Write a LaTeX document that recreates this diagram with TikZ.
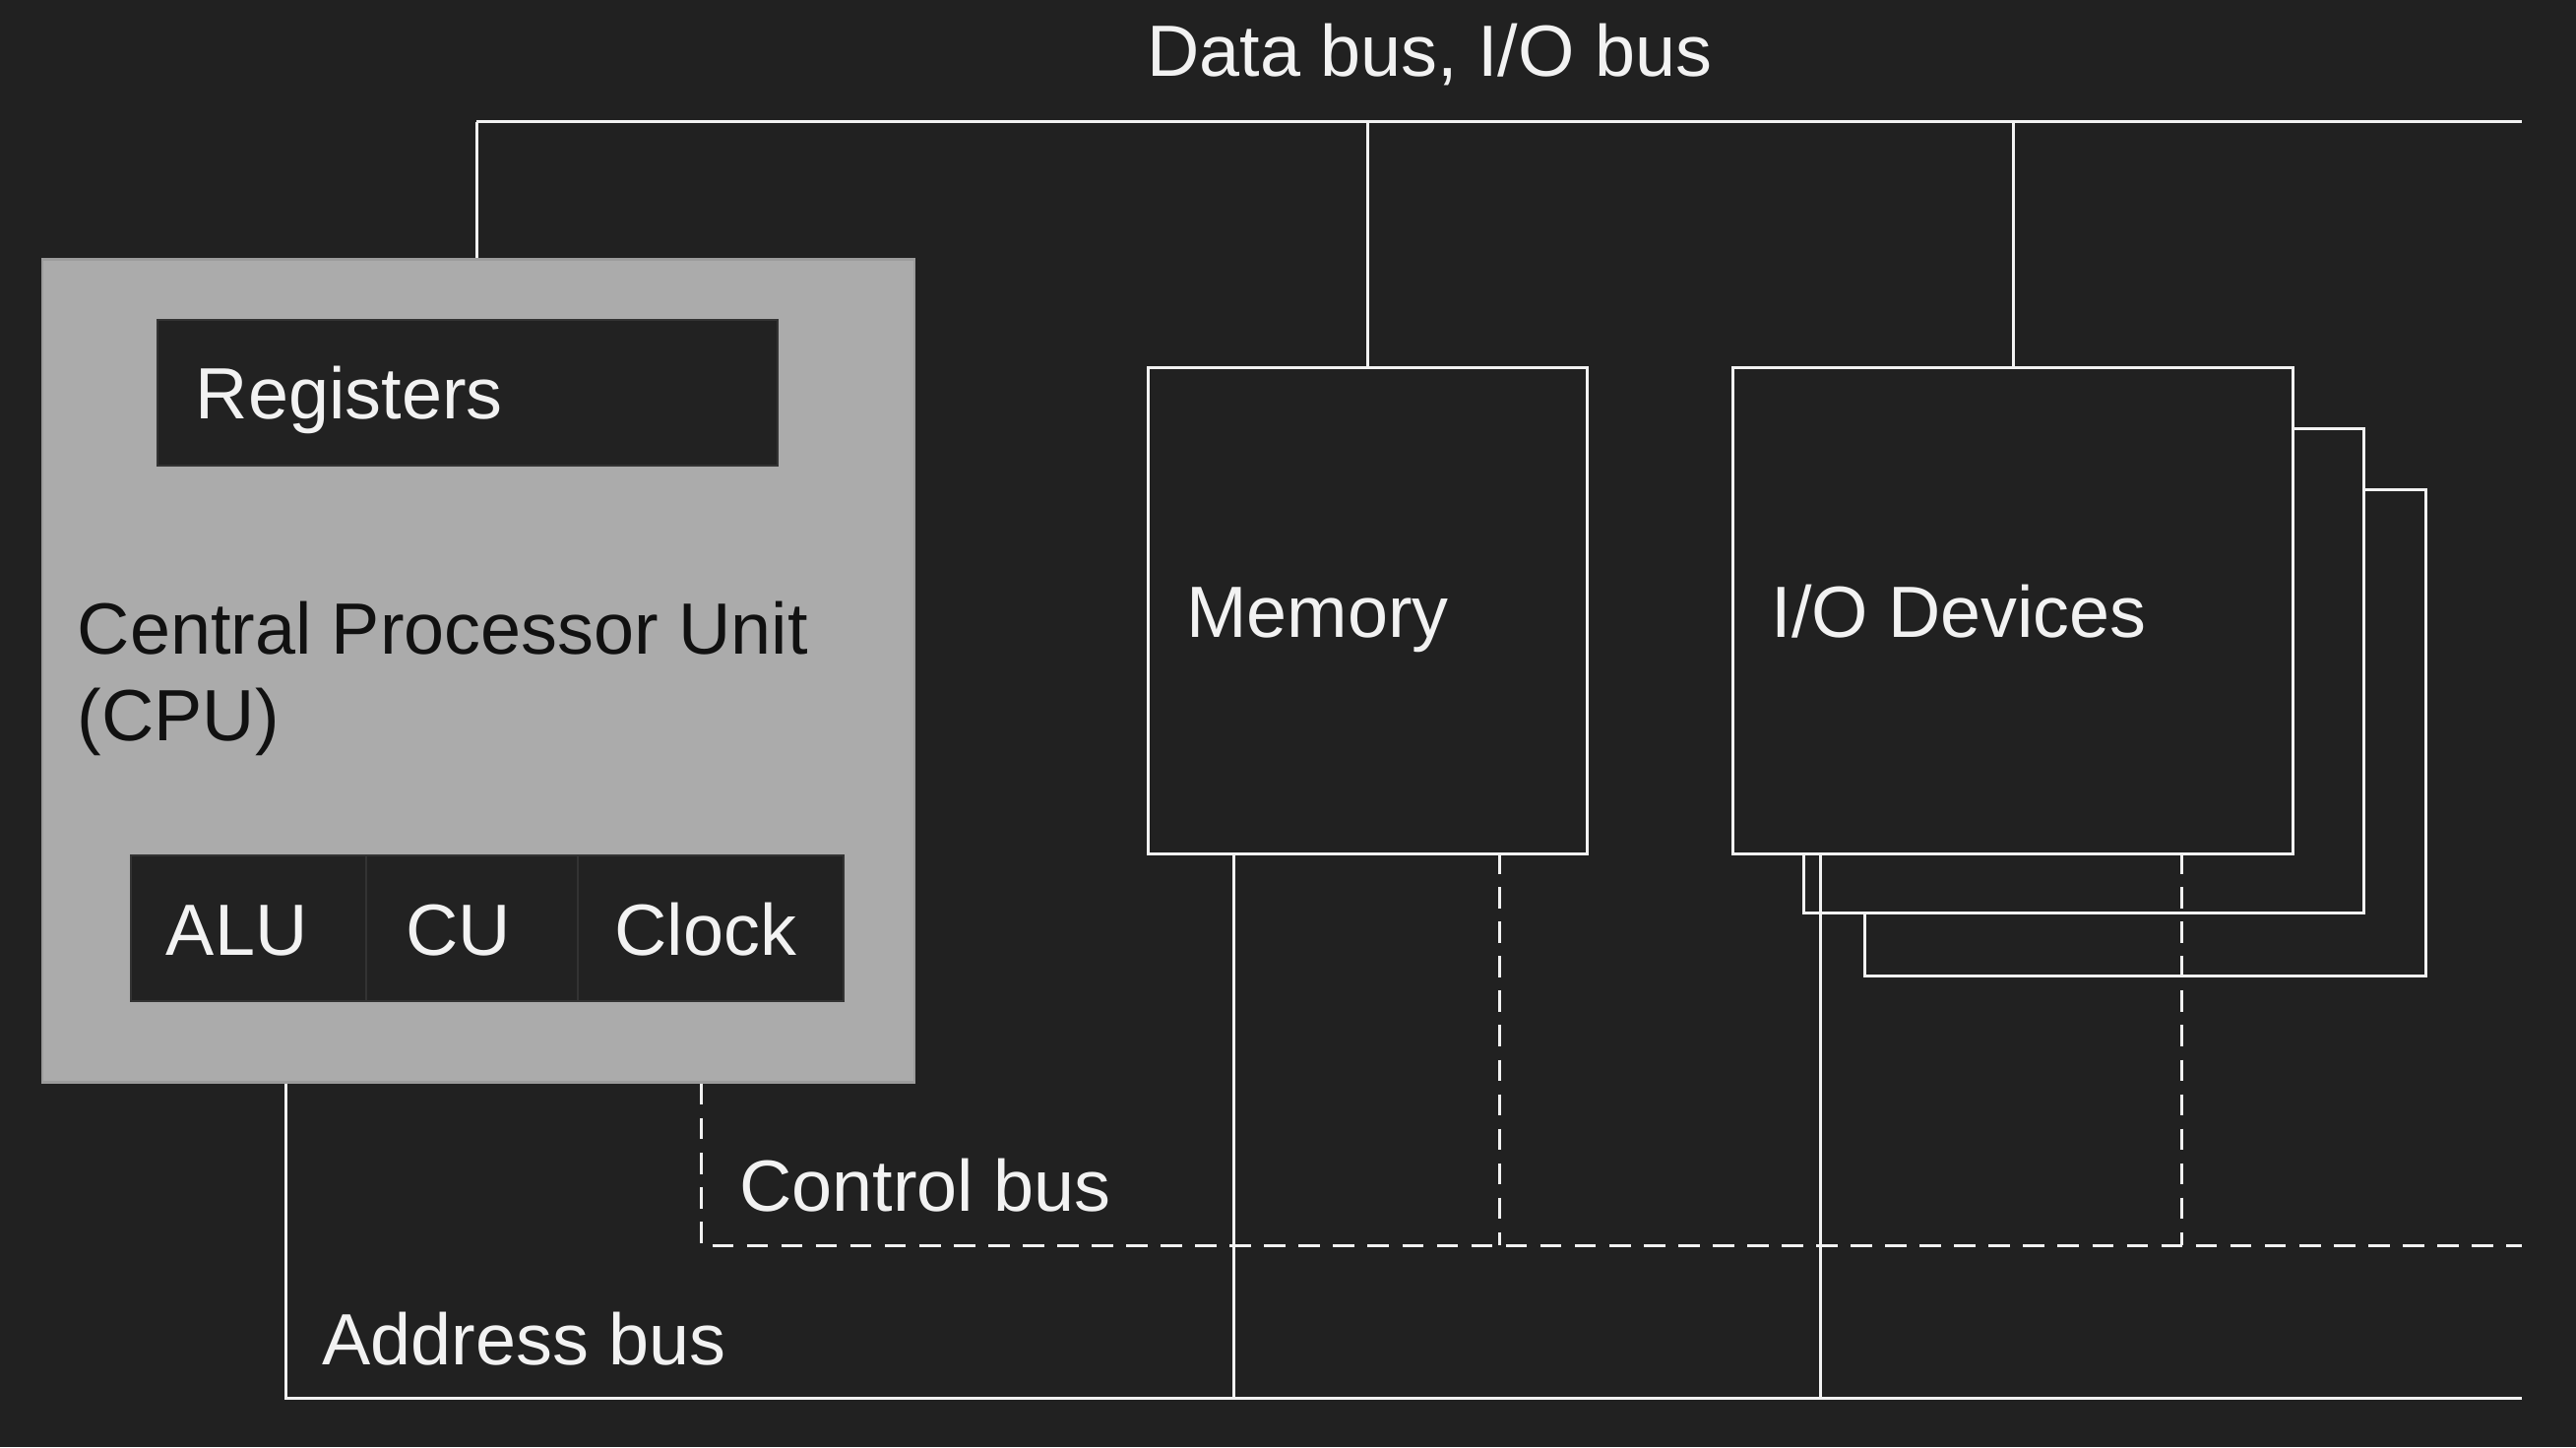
\documentclass[tikz,border=0pt]{standalone}
\usepackage{fontspec}
\setmainfont{Liberation Sans}
\definecolor{bg}{HTML}{212121}
\definecolor{cpugray}{HTML}{ABABAB}
\definecolor{cpuedge}{HTML}{9C9C9C}
\definecolor{innerbg}{HTML}{222222}
\definecolor{inneredge}{HTML}{333333}
\definecolor{wire}{HTML}{F2F2F2}
\definecolor{darktext}{HTML}{111111}
\begin{document}
\begin{tikzpicture}[x=1pt,y=-1pt,
  wireline/.style={draw=wire,line width=1.8pt},
  dashwire/.style={draw=wire,line width=1.8pt,dash pattern=on 13pt off 8pt},
  whitebox/.style={draw=wire,fill=bg,line width=1.8pt,rectangle,inner sep=0pt,anchor=north west},
  innerbox/.style={draw=inneredge,fill=innerbg,line width=1.2pt,rectangle,inner sep=0pt,anchor=north west},
  cpubox/.style={draw=cpuedge,fill=cpugray,line width=1.5pt,rectangle,inner sep=0pt,anchor=north west},
  lbl/.style={anchor=base west,inner sep=0pt,text=wire,font=\fontsize{44.2}{50}\selectfont},
  dlbl/.style={lbl,text=darktext}
]
\fill[bg] (0,0) rectangle (1568,881);
\useasboundingbox (0,0) rectangle (1568,881);

% CPU
\node[cpubox,minimum width=531pt,minimum height=501pt] (cpu) at (25,157) {};
\node[innerbox,minimum width=378pt,minimum height=89pt] (reg) at (95,194) {};
\node[lbl] (regt) at (119,255) {Registers};
\node[dlbl] (cput1) at (47,398) {Central Processor Unit};
\node[dlbl] (cput2) at (47,451) {(CPU)};
\node[innerbox,minimum width=143pt,minimum height=89pt] (alu) at (79,520) {};
\node[innerbox,minimum width=129pt,minimum height=89pt] (cu) at (222,520) {};
\node[innerbox,minimum width=162pt,minimum height=89pt] (clk) at (351,520) {};
\node[lbl] (alut) at (101,581.5) {ALU};
\node[lbl] (cut) at (247,581.5) {CU};
\node[lbl] (clkt) at (374,581.5) {Clock};

% Memory
\node[whitebox,minimum width=267pt,minimum height=296pt] (mem) at (698,223) {};
\node[lbl] (memt) at (722,388) {Memory};

% I/O devices (stacked)
\node[whitebox,minimum width=342pt,minimum height=296pt] (io3) at (1134,297) {};
\node[whitebox,minimum width=341pt,minimum height=295pt] (io2) at (1097,260) {};
\node[whitebox,minimum width=341pt,minimum height=296pt] (io) at (1054,223) {};
\node[lbl] (iot) at (1078,388) {I/O Devices};

% Data bus
\node[lbl] (dbt) at (698,46.5) {Data bus, I/O bus};
\coordinate (dbL) at (290,74);
\coordinate (dbR) at (1535,74);
\draw[wireline] (dbL) -- (dbR);
\draw[wireline] (dbL) -- (dbL |- cpu.north);
\draw[wireline] (mem.north) -- (mem.north |- dbL);
\draw[wireline] (io.north) -- (io.north |- dbL);

% Address bus
\coordinate (abL) at (174,851);
\coordinate (abR) at (1535,851);
\draw[wireline] (abL |- cpu.south) -- (abL) -- (abR);
\coordinate (memA) at (751,519);
\coordinate (ioA) at (1108,519);
\draw[wireline] (memA) -- (memA |- abR);
\draw[wireline] (ioA) -- (ioA |- abR);
\node[lbl] (abt) at (196,831) {Address bus};

% Control bus
\coordinate (cbL) at (427,758);
\coordinate (cbR) at (1535,758);
\draw[dashwire] (cbL |- cpu.south) -- (cbL) -- (cbR);
\coordinate (memC) at (913,519);
\coordinate (ioC) at (1328,519);
\draw[dashwire] (memC) -- (memC |- cbR);
\draw[dashwire] (ioC) -- (ioC |- cbR);
\node[lbl] (cbt) at (450,737) {Control bus};
\end{tikzpicture}
\end{document}
